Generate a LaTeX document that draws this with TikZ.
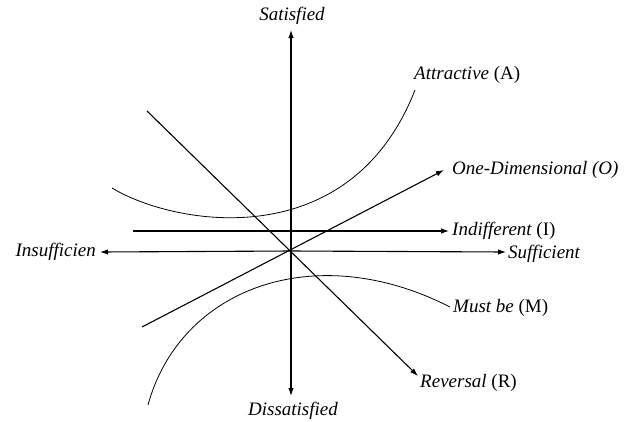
\documentclass[tikz,border=0pt]{standalone}
\usepackage{fontspec}
\setmainfont{Liberation Serif}
\usetikzlibrary{arrows.meta}
\begin{document}
\begin{tikzpicture}[x=1pt,y=-1pt,
  ln/.style={line width=1.1pt},
  arr/.style={ln,-{Latex[length=8pt,width=5.5pt]}},
  crv/.style={line width=0.8pt},
  lbl/.style={font=\fontsize{19}{21}\selectfont\itshape,inner sep=0pt}]
\useasboundingbox (0,0) rectangle (632,421);
% axes
\coordinate (c) at (291,251);
\coordinate (top) at (291,30);
\coordinate (bot) at (291,396);
\coordinate (lft) at (100,252);
\coordinate (rgt) at (506,252);
\draw[arr] (c) -- (top);
\draw[arr] (c) -- (bot);
\draw[arr] (c) -- (lft);
\draw[arr] (c) -- (rgt);
\node[lbl,anchor=south] (sat) at (292,25) {Satisfied};
\node[lbl,anchor=north] (dis) at (293,402) {Dissatisfied};
\node[lbl,anchor=east] (ins) at (96,252) {Insufficien};
\node[lbl,anchor=west] (suf) at (508,254) {Sufficient};
% indifferent
\coordinate (i0) at (133,231);
\coordinate (i1) at (449,231);
\draw[arr] (i0) -- (i1);
\node[lbl,anchor=west] (ind) at (452,231) {Indifferent {\upshape(I)}};
% one-dimensional
\coordinate (o0) at (142,327);
\coordinate (o1) at (444,170);
\draw[arr] (o0) -- (o1);
\node[lbl,anchor=west] (one) at (452,170) {One-Dimensional (O)};
% reversal
\coordinate (r0) at (147,111);
\coordinate (r1) at (418,376);
\draw[arr] (r0) -- (r1);
\node[lbl,anchor=west] (rev) at (420,383) {Reversal {\upshape(R)}};
% attractive
\coordinate (a0) at (112,188);
\coordinate (a1) at (415,90);
\draw[crv] (a0) .. controls (175,226) and (350,256) .. (a1);
\node[lbl,anchor=west] (att) at (414,75) {Attractive {\upshape(A)}};
% must be
\coordinate (m0) at (148,405);
\coordinate (m1) at (450,307);
\draw[crv] (m0) .. controls (180,288) and (315,238) .. (m1);
\node[lbl,anchor=west] (must) at (453,308) {Must be {\upshape(M)}};
\end{tikzpicture}
\end{document}
